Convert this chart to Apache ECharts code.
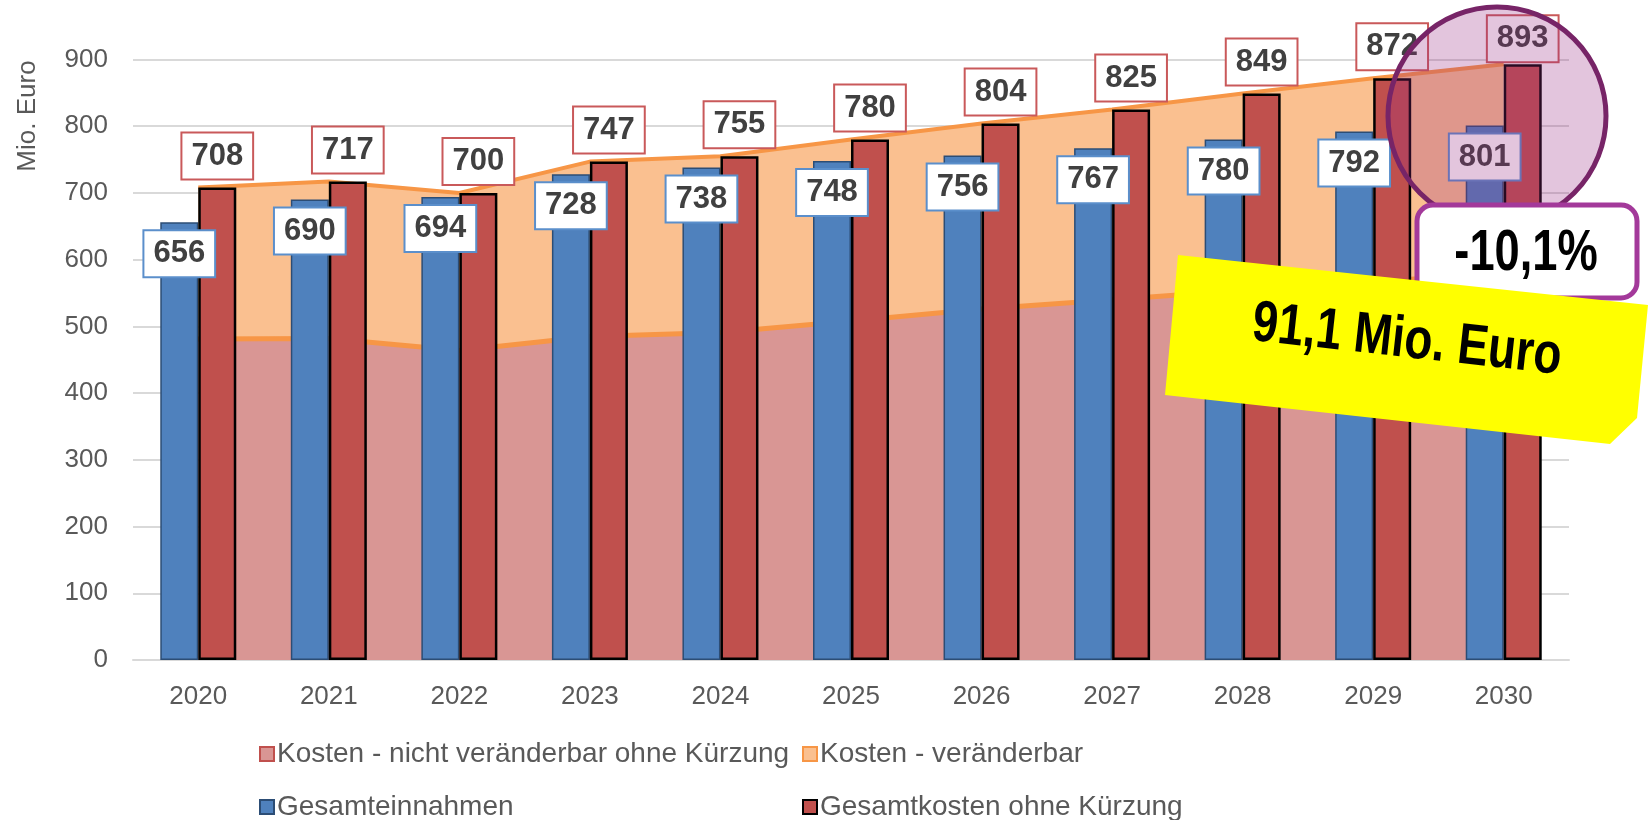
<!DOCTYPE html>
<html>
<head>
<meta charset="utf-8">
<title>Kosten und Einnahmen</title>
<script src="https://cdn.jsdelivr.net/npm/echarts/dist/echarts.min.js"></script>
<style>
  html, body { margin: 0; padding: 0; background: #fff; }
  #main { width: 1651px; height: 820px; }
</style>
</head>
<body>
<div id="main"></div>
<script>
// Daten (Mio. Euro)
var jahre = ['2020', '2021', '2022', '2023', '2024', '2025', '2026', '2027', '2028', '2029', '2030'];
var einnahmen = [656, 690, 694, 728, 738, 748, 756, 767, 780, 792, 801];
var kostenGesamt = [708, 717, 700, 747, 755, 780, 804, 825, 849, 872, 893];
var kostenFix = [481, 482, 464, 485, 491, 508, 526, 540, 554, 567, 580];
var kostenVar = [227, 235, 236, 262, 264, 272, 278, 285, 295, 305, 313];
var yTicks = [0, 100, 200, 300, 400, 500, 600, 700, 800, 900];

var font = 'Liberation Sans, Arial, sans-serif';
var grau = '#595959';

var myChart = echarts.init(document.getElementById('main'));

function legende(name, left, top, style) {
    return {
        left: left,
        top: top,
        padding: 0,
        icon: 'rect',
        itemWidth: 14,
        itemHeight: 14,
        textStyle: { color: grau, fontSize: 28, fontFamily: font, padding: [0, 0, 0, -2] },
        data: [{ name: name, itemStyle: style }]
    };
}

var boxLabel = {
    show: true,
    color: '#404040',
    fontSize: 31,
    fontWeight: 'bold',
    fontFamily: font,
    backgroundColor: '#fff',
    borderWidth: 2,
    padding: [7, 9, 7, 9]
};

var option = {
    animation: false,
    grid: { left: 133, right: 82, top: 59.5, bottom: 160, containLabel: false },
    legend: [
        legende('Kosten - nicht veränderbar ohne Kürzung', 259, 740,
            { color: '#D99694', borderColor: '#C0504D', borderWidth: 2 }),
        legende('Kosten - veränderbar', 802, 740,
            { color: '#FAC090', borderColor: '#F79646', borderWidth: 2 }),
        legende('Gesamteinnahmen', 259, 793,
            { color: '#4F81BD', borderColor: '#2C4D75', borderWidth: 2 }),
        legende('Gesamtkosten ohne Kürzung', 802, 793,
            { color: '#C0504D', borderColor: '#000', borderWidth: 2 })
    ],
    xAxis: {
        type: 'category',
        data: jahre,
        axisLine: { lineStyle: { color: '#D9D9D9', width: 2 } },
        axisTick: { show: false },
        axisLabel: { color: grau, fontSize: 26, fontFamily: font, margin: 24 }
    },
    yAxis: {
        type: 'value',
        min: yTicks[0],
        max: yTicks[yTicks.length - 1],
        interval: 100,
        axisLine: { show: false },
        axisTick: { show: false },
        axisLabel: { color: grau, fontSize: 26, fontFamily: font, margin: 25 },
        splitLine: { lineStyle: { color: '#D9D9D9', width: 2 } }
    },
    series: [
        {
            name: 'Kosten - nicht veränderbar ohne Kürzung',
            type: 'line',
            stack: 'kosten',
            symbol: 'none',
            z: 1,
            data: kostenFix,
            lineStyle: { color: '#F79646', width: 5 },
            itemStyle: { color: '#D99694' },
            areaStyle: { color: '#D99694', opacity: 1 }
        },
        {
            name: 'Kosten - veränderbar',
            type: 'line',
            stack: 'kosten',
            symbol: 'none',
            z: 1,
            data: kostenVar,
            lineStyle: { color: '#F79646', width: 4 },
            itemStyle: { color: '#FAC090' },
            areaStyle: { color: '#FAC090', opacity: 1 }
        },
        {
            name: 'Gesamteinnahmen',
            type: 'bar',
            z: 3,
            barWidth: 38,
            barGap: '0%',
            data: einnahmen,
            itemStyle: { color: '#4F81BD', borderColor: '#2C4D75', borderWidth: 1.5 },
            label: Object.assign({}, boxLabel, {
                position: 'insideTop', distance: 9, borderColor: '#5B8FCB'
            })
        },
        {
            name: 'Gesamtkosten ohne Kürzung',
            type: 'bar',
            z: 3,
            barWidth: 38,
            barGap: '0%',
            data: kostenGesamt.map(function (v, i) {
                // letzter Wert stößt oben an den Rand
                return i === kostenGesamt.length - 1 ? { value: v, label: { distance: 3 } } : v;
            }),
            itemStyle: { color: '#C0504D', borderColor: '#000', borderWidth: 2.5 },
            label: Object.assign({}, boxLabel, {
                position: 'top', distance: 9, borderColor: '#C9595A'
            })
        }
    ],
    graphic: [
        {
            type: 'circle',
            z: 100,
            shape: { cx: 1497, cy: 116, r: 109 },
            style: { fill: 'rgba(150,40,130,0.27)', stroke: '#772467', lineWidth: 5 }
        },
        {
            type: 'rect',
            z: 101,
            shape: { x: 1417, y: 205, width: 220, height: 93, r: 16 },
            style: { fill: '#fff', stroke: '#A3399A', lineWidth: 5 }
        },
        {
            type: 'text',
            z: 102,
            x: 1526,
            y: 254,
            scaleX: 0.78,
            style: {
                text: '-10,1%', fill: '#000', font: 'bold 58px ' + font,
                align: 'center', verticalAlign: 'middle'
            }
        },
        {
            type: 'polygon',
            z: 103,
            shape: { points: [[1178, 255], [1648, 305], [1637, 418], [1610, 444], [1165, 395]] },
            style: { fill: '#FFFF00' }
        },
        {
            type: 'text',
            z: 104,
            x: 1407,
            y: 341,
            rotation: -0.11,
            scaleX: 0.79,
            style: {
                text: '91,1 Mio. Euro', fill: '#000', font: 'bold 58px ' + font,
                align: 'center', verticalAlign: 'middle'
            }
        },
        {
            type: 'text',
            z: 50,
            x: 28,
            y: 116,
            rotation: Math.PI / 2,
            style: {
                text: 'Mio. Euro', fill: grau, font: '26px ' + font,
                align: 'center', verticalAlign: 'middle'
            }
        }
    ]
};

myChart.setOption(option);
</script>
</body>
</html>
